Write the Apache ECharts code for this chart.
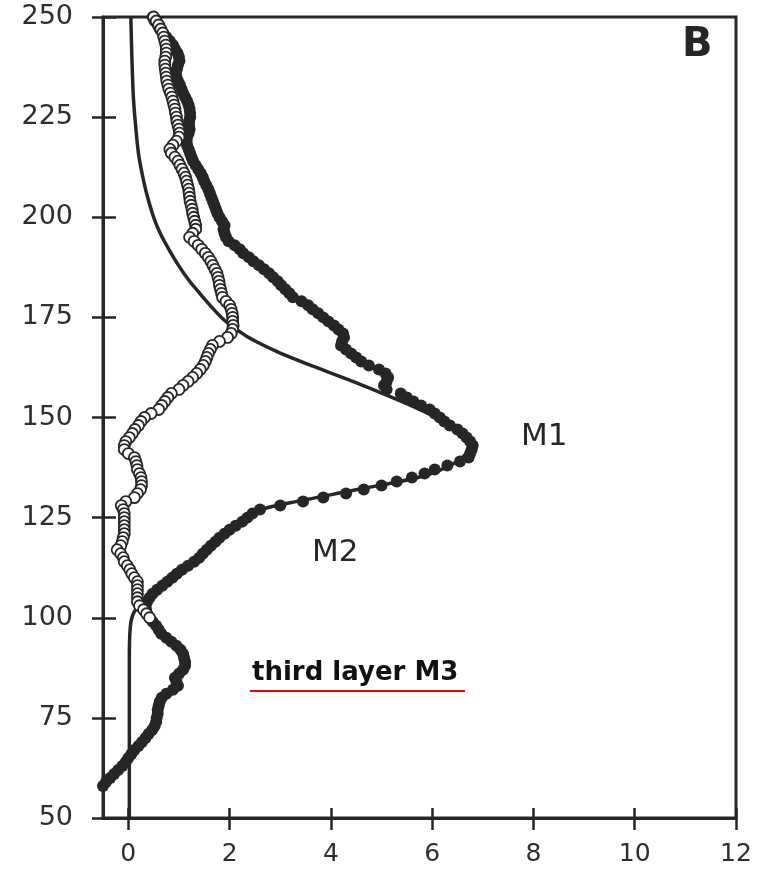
<!DOCTYPE html>
<html>
<head>
<meta charset="utf-8">
<script src="https://cdn.jsdelivr.net/npm/echarts@6/dist/echarts.min.js"></script>
<style>
  html, body { margin: 0; padding: 0; background: #fff; }
  #chart { width: 767px; height: 870px; }
</style>
</head>
<body>
<div id="chart"></div>
<script>
// Tick values
const xTicks = [0, 2, 4, 6, 8, 10, 12];
const yTicksInterval = 25;

// Filled dots: [value, depth]
const filledPoints = [
  [0.48,250],[0.52,249],[0.58,248],[0.62,247],[0.68,246],[0.75,245],[0.82,244],[0.88,243],[0.92,242],[0.97,241],
  [1.00,240],[1.01,239],[0.98,238],[0.96,237],[0.94,236],[0.95,235],[0.98,234],[1.02,233],[1.05,232],[1.08,231],
  [1.12,230],[1.16,229],[1.19,228],[1.21,227],[1.22,226],[1.22,225],[1.20,224],[1.20,223],[1.21,222],[1.19,221],
  [1.16,220],[1.15,219],[1.16,218],[1.19,217],[1.22,216],[1.25,215],[1.28,214],[1.33,213],[1.38,212],[1.43,211],
  [1.47,210],[1.50,209],[1.54,208],[1.58,207],[1.61,206],[1.64,205],[1.67,204],[1.70,203],[1.73,202],[1.76,201],
  [1.80,200],[1.85,199],[1.90,198],[1.88,197],[1.90,196],[1.93,195],[1.98,194],[2.10,193],[2.20,192],[2.27,191],
  [2.38,190],[2.47,189],[2.58,188],[2.68,187],[2.78,186],[2.86,185],[2.95,184],[3.02,183],[3.10,182],[3.18,181],
  [3.25,180],[3.42,179],[3.55,178],[3.64,177],[3.75,176],[3.85,175],[3.95,174],[4.06,173],[4.15,172],[4.24,171],
  [4.26,170],[4.22,169],[4.20,168],[4.30,167],[4.40,166],[4.50,165],[4.60,164],[4.75,163],[4.95,162],[5.08,161],
  [5.13,160],[5.10,159],[5.05,158],[5.10,157],[5.38,156],[5.50,155],[5.63,154],[5.78,153],[5.95,152],[6.05,151],
  [6.15,150],[6.24,149],[6.35,148],[6.50,147],[6.60,146],[6.68,145],[6.75,144],[6.80,143],[6.78,142],[6.75,141],
  [6.72,140],[6.55,139],[6.30,138],[6.05,137],[5.85,136],[5.60,135],[5.30,134],[5.00,133],[4.65,132],[4.30,131],
  [3.85,130],[3.45,129],[3.00,128],[2.60,127],[2.45,126],[2.35,125],[2.25,124],[2.12,123],[2.00,122],[1.90,121],
  [1.80,120],[1.72,119],[1.63,118],[1.55,117],[1.47,116],[1.40,115],[1.30,114],[1.18,113],[1.06,112],[0.96,111],
  [0.87,110],[0.77,109],[0.67,108],[0.57,107],[0.48,106],[0.42,105],[0.37,104],[0.34,103],[0.35,102],[0.37,101],
  [0.42,100],[0.48,99],[0.55,98],[0.60,97],[0.65,96],[0.75,95],[0.85,94],[0.95,93],[1.03,92],[1.08,91],
  [1.10,90],[1.12,89],[1.12,88],[1.08,87],[1.00,86],[0.92,85],[0.95,84],[0.98,83],[0.88,82],[0.75,81],
  [0.66,80],[0.62,79],[0.60,78],[0.58,77],[0.58,76],[0.56,75],[0.55,74],[0.52,73],[0.47,72],[0.40,71],
  [0.34,70],[0.27,69],[0.20,68],[0.12,67],[0.06,66],[0.00,65],[-0.05,64],[-0.12,63],[-0.20,62],[-0.28,61],
  [-0.36,60],[-0.44,59],[-0.50,58]
];

// Open circles: [value, depth]
const openPoints = [
  [0.50,250],[0.55,249],[0.60,248],[0.64,247],[0.68,246],[0.70,245],[0.72,244],[0.74,243],[0.75,242],[0.75,241],
  [0.74,240],[0.72,239],[0.72,238],[0.73,237],[0.74,236],[0.75,235],[0.76,234],[0.78,233],[0.80,232],[0.83,231],
  [0.86,230],[0.88,229],[0.90,228],[0.92,227],[0.93,226],[0.95,225],[0.96,224],[0.98,223],[1.00,222],[1.01,221],
  [1.00,220],[0.95,219],[0.88,218],[0.82,217],[0.85,216],[0.92,215],[0.98,214],[1.02,213],[1.06,212],[1.10,211],
  [1.13,210],[1.15,209],[1.17,208],[1.19,207],[1.20,206],[1.21,205],[1.22,204],[1.24,203],[1.26,202],[1.27,201],
  [1.29,200],[1.31,199],[1.33,198],[1.33,197],[1.27,196],[1.21,195],[1.30,194],[1.38,193],[1.45,192],[1.52,191],
  [1.58,190],[1.63,189],[1.67,188],[1.71,187],[1.75,186],[1.77,185],[1.79,184],[1.80,183],[1.82,182],[1.84,181],
  [1.86,180],[1.93,179],[2.00,178],[2.03,177],[2.05,176],[2.06,175],[2.06,174],[2.07,173],[2.06,172],[2.03,171],
  [1.96,170],[1.80,169],[1.66,168],[1.62,167],[1.58,166],[1.55,165],[1.52,164],[1.48,163],[1.42,162],[1.35,161],
  [1.27,160],[1.18,159],[1.08,158],[1.00,157],[0.85,156],[0.78,155],[0.72,154],[0.66,153],[0.60,152],[0.45,151],
  [0.32,150],[0.25,149],[0.20,148],[0.13,147],[0.08,146],[0.02,145],[-0.05,144],[-0.08,143],[-0.08,142],[0.00,141],
  [0.12,140],[0.15,139],[0.17,138],[0.18,137],[0.22,136],[0.25,135],[0.26,134],[0.26,133],[0.24,132],[0.18,131],
  [0.12,130],[-0.05,129],[-0.14,128],[-0.10,127],[-0.08,126],[-0.08,125],[-0.08,124],[-0.08,123],[-0.08,122],[-0.08,121],
  [-0.10,120],[-0.12,119],[-0.15,118],[-0.22,117],[-0.15,116],[-0.10,115],[-0.08,114],[-0.02,113],[0.03,112],[0.07,111],
  [0.12,110],[0.18,109],[0.18,108],[0.18,107],[0.18,106],[0.18,105],[0.18,104],[0.22,103],[0.30,102],[0.36,101],
  [0.42,100]
];

// Model curve: [value, depth]
const modelCurve = [
  [0.05,250],[0.07,240],[0.10,230],[0.15,222],[0.20,216],[0.27,211],[0.36,206],[0.50,200],[0.63,196],
  [0.80,192],[1.01,187.6],[1.20,184.2],[1.41,181],[1.65,177.5],[1.87,174.6],[2.10,172.3],[2.36,170.1],
  [2.66,168.1],[3.00,166.1],[3.65,162.8],[4.33,159.5],[4.98,156.2],[5.63,152.7],[6.31,148.6],[6.63,146.2],
  [6.80,144.2],[6.72,141.8],[6.50,139],[5.83,135.4],[4.52,132],[3.20,128.7],[2.60,126.9],[2.20,123.6],
  [1.55,116.9],[0.87,111.2],[0.36,105.2],[0.14,102],[0.06,99.5],[0.03,96],[0.02,90],[0.02,50]
];

const labelFont = 'DejaVu Sans';
const ink = '#262626';

const chart = echarts.init(document.getElementById('chart'), null, { renderer: 'canvas' });

const baseX = {
  type: 'value', min: -0.5, max: 12, position: 'bottom',
  splitLine: { show: false }
};
const baseY = {
  type: 'value', min: 50, max: 250, interval: yTicksInterval, position: 'left',
  splitLine: { show: false }
};

chart.setOption({
  animation: false,
  backgroundColor: '#ffffff',
  grid: {
    left: 103, right: 31, top: 17, bottom: 52,
    show: true, borderColor: ink, borderWidth: 3, backgroundColor: 'transparent'
  },
  xAxis: [
    Object.assign({}, baseX, {
      axisLine: { show: true, onZero: false, lineStyle: { color: ink, width: 3 } },
      axisTick: { show: true, inside: false, length: 12, customValues: xTicks, lineStyle: { color: ink, width: 2.5 } },
      axisLabel: { show: true, customValues: xTicks, margin: 24, fontFamily: labelFont, fontSize: 25, color: '#2e2e2e' }
    }),
    Object.assign({}, baseX, {
      axisLine: { show: false, onZero: false },
      axisTick: { show: true, inside: true, length: 10, customValues: xTicks, lineStyle: { color: ink, width: 2.5 } },
      axisLabel: { show: false }
    })
  ],
  yAxis: [
    Object.assign({}, baseY, {
      axisLine: { show: true, onZero: false, lineStyle: { color: ink, width: 3 } },
      axisTick: { show: true, inside: false, length: 11, lineStyle: { color: ink, width: 2.5 } },
      axisLabel: { show: true, margin: 30, fontFamily: labelFont, fontSize: 27, color: '#2e2e2e' }
    }),
    Object.assign({}, baseY, {
      offset: 0,
      axisLine: { show: false, onZero: false },
      axisTick: { show: true, inside: true, length: 13, lineStyle: { color: ink, width: 2.5 } },
      axisLabel: { show: false }
    })
  ],
  series: [
    {
      name: 'model', type: 'line', data: modelCurve, showSymbol: false, symbol: 'none',
      smooth: 0.3, lineStyle: { color: ink, width: 3.5 }, z: 2, clip: true
    },
    {
      name: 'filled', type: 'scatter', data: filledPoints, symbol: 'circle', symbolSize: 12,
      itemStyle: { color: ink, opacity: 1 }, z: 3, clip: true
    },
    {
      name: 'open', type: 'scatter', data: openPoints, symbol: 'circle', symbolSize: 11,
      itemStyle: { color: '#ffffff', borderColor: ink, borderWidth: 1.8, opacity: 1 }, z: 4, clip: true
    }
  ],
  graphic: [
    { type: 'text', left: 682, top: 26, z: 10,
      style: { text: 'B', font: 'bold 40px "DejaVu Sans"', fill: ink } },
    { type: 'text', left: 521, top: 421, z: 10,
      style: { text: 'M1', font: '31px "DejaVu Sans"', fill: ink } },
    { type: 'text', left: 312, top: 537, z: 10,
      style: { text: 'M2', font: '31px "DejaVu Sans"', fill: ink } },
    { type: 'text', left: 252, top: 660, z: 10,
      style: { text: 'third layer M3', font: 'bold 26px "DejaVu Sans"', fill: '#111' } },
    { type: 'line', z: 10,
      shape: { x1: 250, y1: 691, x2: 465, y2: 691 },
      style: { stroke: '#ff0000', lineWidth: 2 } }
  ]
});
</script>
</body>
</html>
